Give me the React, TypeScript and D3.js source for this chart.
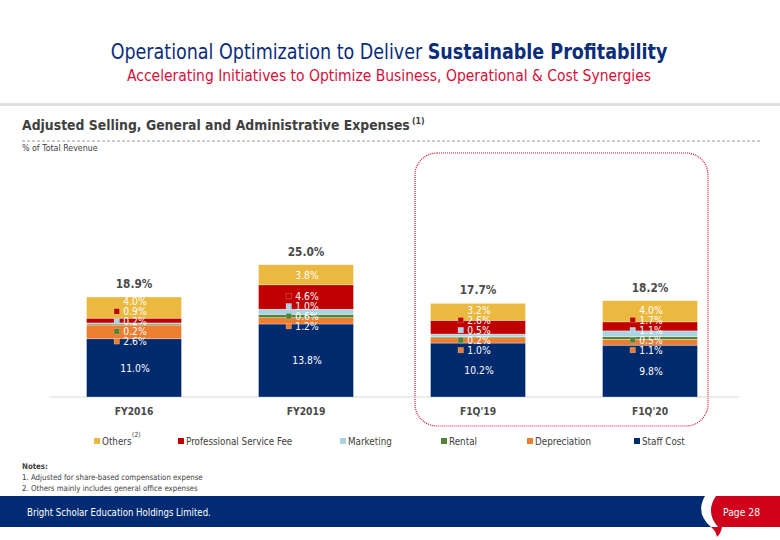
import React from 'react';
import * as d3 from 'd3';

// ---------- DATA ----------
const categories = ["FY2016", "FY2019", "F1Q'19", "F1Q'20"];
const seriesKeys = ["staff", "depreciation", "rental", "marketing", "professional", "others"];
const seriesNames = ["Staff Cost", "Depreciation", "Rental", "Marketing", "Professional Service Fee", "Others"];
const staffCost = [11.0, 13.8, 10.2, 9.8];
const depreciation = [2.6, 1.2, 1.0, 1.1];
const rental = [0.2, 0.6, 0.2, 0.5];
const marketing = [0.2, 1.0, 0.5, 1.1];
const professionalFee = [0.9, 4.6, 2.6, 1.7];
const others = [4.0, 3.8, 3.2, 4.0];
const totals = [18.9, 25.0, 17.7, 18.2];
const seriesColors = ["#002a6e", "#ed7d31", "#548235", "#a9d3e3", "#c00000", "#ebb840"];
const keyedSeries = ["depreciation", "rental", "marketing", "professional"];
const legendOrder = ["others", "professional", "marketing", "rental", "depreciation", "staff"];

const W = 780;
const H = 540;
const FONT = "'DejaVu Sans', Verdana, sans-serif";
const SX = 0.88; // condense DejaVu to Tahoma-like width

function spread(centers: number[], gap: number): number[] {
  const sorted = centers.map((y, i) => ({ i, y })).sort((a, b) => a.y - b.y);
  const groups: { members: { i: number; y: number }[]; mean: number }[] = sorted.map(s => ({ members: [s], mean: s.y }));
  let changed = true;
  while (changed) {
    changed = false;
    for (let k = 0; k < groups.length - 1; k++) {
      const a = groups[k], b = groups[k + 1];
      const aBottom = a.mean + (a.members.length - 1) * gap / 2;
      const bTop = b.mean - (b.members.length - 1) * gap / 2;
      if (bTop - aBottom < gap - 0.01) {
        const members = [...a.members, ...b.members];
        const mean = d3.mean(members, m => m.y) as number;
        groups.splice(k, 2, { members, mean });
        changed = true;
        break;
      }
    }
  }
  const out: number[] = new Array(centers.length);
  groups.forEach(g => g.members.forEach((m, j) => {
    out[m.i] = g.mean + (j - (g.members.length - 1) / 2) * gap;
  }));
  return out;
}

type TProps = {
  x: number; y: number; children: React.ReactNode; size: number; fill?: string;
  weight?: string | number; anchor?: string; sx?: number;
};
const T = ({ x, y, children, size, fill = "#404040", weight = "normal", anchor = "start", sx = SX }: TProps) => (
  <text
    transform={`translate(${x},${y}) scale(${sx},1)`}
    fontFamily={FONT}
    fontSize={size}
    fill={fill}
    fontWeight={weight}
    textAnchor={anchor}
  >
    {children}
  </text>
);

export default function App() {
  const rows = categories.map((c, i) => ({
    category: c,
    staff: staffCost[i],
    depreciation: depreciation[i],
    rental: rental[i],
    marketing: marketing[i],
    professional: professionalFee[i],
    others: others[i],
  }));
  const stack = d3.stack<any>().keys(seriesKeys);
  const stacked = stack(rows);

  const x = d3.scaleBand<string>().domain(categories).range([48, 736]).paddingInner(0.448).paddingOuter(0.224);
  const y = d3.scaleLinear().domain([0, 25]).range([397, 264.75]);
  const color = d3.scaleOrdinal<string, string>().domain(seriesKeys).range(seriesColors);
  const nameOf = (k: string) => seriesNames[seriesKeys.indexOf(k)];

  const legendX = [94, 178, 340, 441, 527, 634];

  return (
    <svg width={W} height={H} style={{ position: 'absolute', left: 0, top: 0, background: '#fff' }}>
      {/* Header */}
      <T x={389} y={59} size={21} anchor="middle" fill="#0b2d7a" sx={0.835}>
        <tspan>Operational Optimization to Deliver </tspan>
        <tspan fontWeight="bold">Sustainable Profitability</tspan>
      </T>
      <T x={389} y={81} size={16} anchor="middle" fill="#d50f3a" sx={0.87}>
        Accelerating Initiatives to Optimize Business, Operational &amp; Cost Synergies
      </T>
      <rect x={0} y={103} width={W} height={3} fill="#e0e0e0" />

      {/* Section title */}
      <T x={22} y={130} size={14.5} weight="bold" fill="#404040" sx={0.86}>
        Adjusted Selling, General and Administrative Expenses
      </T>
      <T x={412} y={124} size={9} weight="bold" fill="#404040">(1)</T>
      <line x1={22} x2={760} y1={141} y2={141} stroke="#808080" strokeWidth={0.8} strokeDasharray="3 2" />
      <T x={22} y={151} size={9} fill="#404040">% of Total Revenue</T>

      {/* Highlight box */}
      <rect x={415} y={153} width={293} height={273} rx={22} ry={22} fill="none"
        stroke="#d6143c" strokeWidth={1.2} strokeDasharray="1 1" />

      {/* Axis line */}
      <line x1={49} x2={739} y1={y(0)} y2={y(0)} stroke="#d9d9d9" strokeWidth={1} />

      {/* Bars */}
      {stacked.map(layer => (
        <g key={layer.key}>
          {layer.map((d: any, i: number) => (
            <rect key={i}
              x={x(categories[i])}
              y={y(d[1])}
              width={x.bandwidth()}
              height={y(d[0]) - y(d[1])}
              fill={color(layer.key)}
              stroke="#ffffff"
              strokeWidth={0.5}
              strokeOpacity={0.6}
            />
          ))}
        </g>
      ))}

      {/* Segment labels */}
      {categories.map((c, i) => {
        const cx = (x(c) as number) + x.bandwidth() / 2;
        const centers = stacked.map(layer => y((layer[i][0] + layer[i][1]) / 2));
        const pos = spread(centers, 10);
        return (
          <g key={c}>
            {stacked.map((layer, li) => {
              const val = layer[i][1] - layer[i][0];
              const keyed = keyedSeries.includes(layer.key);
              return (
                <g key={layer.key}>
                  {keyed && (
                    <rect x={cx - 20} y={pos[li] - 3} width={5.5} height={5.5}
                      fill={color(layer.key)} stroke="#ffffff" strokeWidth={0.4} strokeOpacity={0.5} />
                  )}
                  <T x={cx + 1} y={pos[li] + 3.8} size={10.5} fill="#ffffff" anchor="middle">
                    {val.toFixed(1)}%
                  </T>
                </g>
              );
            })}
            <T x={cx} y={y(totals[i]) - 9} size={12} weight="bold" fill="#4a4a4a" anchor="middle">
              {totals[i].toFixed(1)}%
            </T>
            <T x={cx} y={y(0) + 18} size={10.5} weight="bold" fill="#4a4a4a" anchor="middle">
              {c}
            </T>
          </g>
        );
      })}

      {/* Legend */}
      {legendOrder.map((k, j) => (
        <g key={k}>
          <rect x={legendX[j]} y={438} width={6} height={6} fill={color(k)} />
          <T x={legendX[j] + 8} y={444.5} size={10} fill="#404040">{nameOf(k)}</T>
          {k === "others" && (
            <T x={legendX[j] + 38} y={437} size={7} fill="#404040">(2)</T>
          )}
        </g>
      ))}

      {/* Notes */}
      <T x={22} y={469} size={8} weight="bold" fill="#404040">Notes:</T>
      <T x={22} y={480} size={8} fill="#404040">1.  Adjusted for share-based compensation expense</T>
      <T x={22} y={491} size={8} fill="#404040">2.  Others mainly includes general office expenses</T>

      {/* Footer */}
      <rect x={0} y={496} width={W} height={31} fill="#002a72" />
      <path d="M716,496 L780,496 L780,527 L718,527 Q705,512 716,496 Z" fill="#d0021b" />
      <path d="M705,496 L716,496 Q705,512 718,527 L711,527 Q695,513 705,496 Z" fill="#ffffff" />
      <path d="M711,527 L722,527 Q721,533 717,537 Q716,531 711,527 Z" fill="#d0021b" />
      <T x={27} y={516} size={10} fill="#ffffff" sx={0.86}>Bright Scholar Education Holdings Limited.</T>
      <T x={723} y={516} size={10.5} fill="#ffffff">Page 28</T>
    </svg>
  );
}
